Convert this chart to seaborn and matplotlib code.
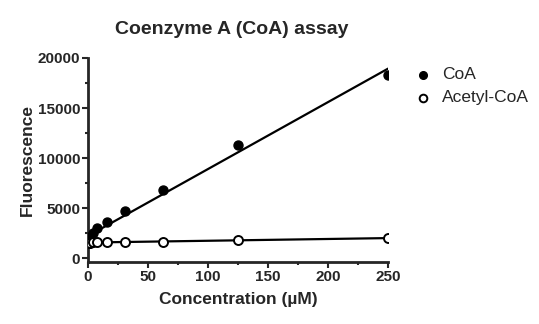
import matplotlib
matplotlib.use("Agg")
import matplotlib.pyplot as plt
import seaborn as sns
import pandas as pd
from matplotlib.ticker import MultipleLocator

conc = [0, 0.49, 0.98, 1.95, 3.9, 7.8, 15.6, 31.25, 62.5, 125, 250]
coa = [1600, 1700, 1850, 2100, 2500, 3000, 3650, 4750, 6850, 11350, 18350]
acetyl = [1500, 1550, 1550, 1550, 1600, 1600, 1600, 1650, 1600, 1800, 2000]

df_coa = pd.DataFrame({"conc": conc, "val": coa})
df_ac = pd.DataFrame({"conc": conc, "val": acetyl})

sns.set_style("ticks")
plt.rcParams["font.family"] = ["Liberation Sans", "DejaVu Sans"]

fig = plt.figure(figsize=(5.39, 3.24), dpi=100)
ax = fig.add_axes([0.163, 0.191, 0.557, 0.63])

sns.regplot(data=df_coa, x="conc", y="val", ax=ax, ci=None, scatter=False,
            line_kws=dict(color="black", lw=1.6))
sns.regplot(data=df_ac, x="conc", y="val", ax=ax, ci=None, scatter=False,
            line_kws=dict(color="black", lw=1.6))
sns.scatterplot(data=df_coa, x="conc", y="val", ax=ax, color="black", s=42,
                edgecolor="black", linewidth=1.0, label="CoA", zorder=3)
sns.scatterplot(data=df_ac, x="conc", y="val", ax=ax, facecolor="white", s=42,
                edgecolor="black", linewidth=1.4, label="Acetyl-CoA", zorder=3)

ax.set_xlim(0, 250)
ax.set_ylim(-400, 20000)
ax.spines["left"].set_bounds(-400, 20000)
ax.spines["bottom"].set_bounds(0, 250)
sns.despine(ax=ax)
for s in ("left", "bottom"):
    ax.spines[s].set_linewidth(2)
ax.set_xticks([0, 50, 100, 150, 200, 250])
ax.set_yticks([0, 5000, 10000, 15000, 20000])
ax.xaxis.set_minor_locator(MultipleLocator(25))
ax.yaxis.set_minor_locator(MultipleLocator(2500))
ax.tick_params(which="major", length=4, width=1.5, labelsize=11, pad=1.5)
ax.tick_params(which="minor", length=2.5, width=1.5)
for lab in ax.get_xticklabels() + ax.get_yticklabels():
    lab.set_fontweight("bold")

ax.set_xlabel("Concentration (µM)", fontsize=12.5, fontweight="bold", labelpad=6)
ax.set_ylabel("Fluorescence", fontsize=12.5, fontweight="bold", labelpad=2)
fig.suptitle("Coenzyme A (CoA) assay", x=0.43, y=0.935, fontsize=14, fontweight="bold")

ax.legend(loc="upper left", bbox_to_anchor=(1.065, 0.99), frameon=False,
          fontsize=12.5, handletextpad=0.6, borderaxespad=0, labelspacing=0.45,
          handlelength=1.0, markerscale=0.85)

fig.savefig("out.png", dpi=100)
